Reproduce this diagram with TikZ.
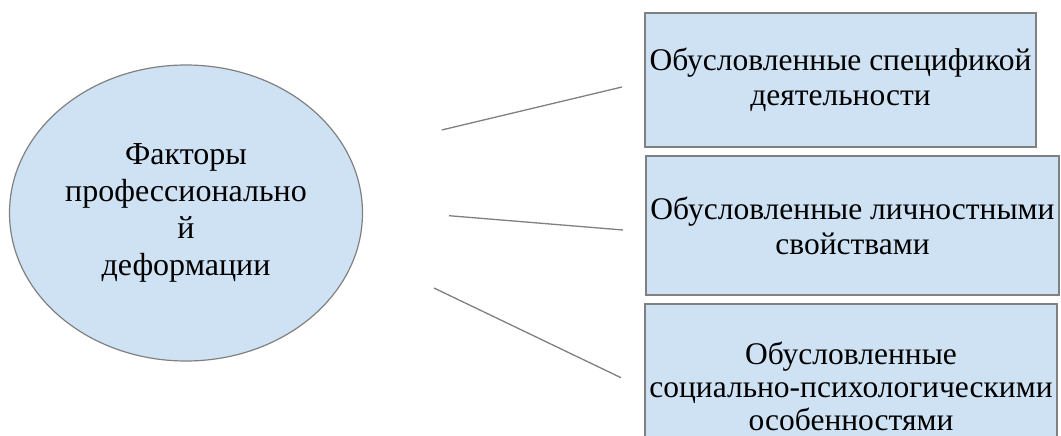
\documentclass[tikz,border=0pt]{standalone}
\usepackage{fontspec}
\setmainfont{Liberation Serif}
\usetikzlibrary{shapes.geometric}
\definecolor{boxfill}{HTML}{CFE2F3}
\definecolor{edgegray}{HTML}{808080}
\tikzset{
  factor/.style={ellipse, draw=edgegray, line width=1.2pt, fill=boxfill, inner sep=0pt,
    minimum width=353pt, minimum height=296pt, align=center,
    font=\fontsize{32pt}{37pt}\selectfont},
  kindbox/.style={rectangle, draw=edgegray, line width=1.2pt, fill=boxfill, inner sep=0pt,
    align=center, font=\fontsize{31.5pt}{35pt}\selectfont},
  link/.style={draw=edgegray, line width=1.3pt}
}
\begin{document}
\begin{tikzpicture}[x=1pt,y=-1pt]
\useasboundingbox (0,0) rectangle (1061,436);
\clip (0,0) rectangle (1061,436);
\fill[white] (0,0) rectangle (1061,436);
\node[factor] (f) at (186,213) {Факторы\\профессионально\\й\\деформации};
\node[kindbox, minimum width=391pt, minimum height=134pt] (b1) at (840.5,80)
  {Обусловленные спецификой\\деятельности};
\node[kindbox, minimum width=413pt, minimum height=139pt] (b2) at (852.5,225.5)
  {Обусловленные личностными\\свойствами};
\node[kindbox, minimum width=412pt, minimum height=164pt,
  font=\fontsize{31.5pt}{33pt}\selectfont] (b3) at (851,386)
  {Обусловленные\\социально-психологическими\\особенностями};
\coordinate (a1) at (441.7,130);
\coordinate (e1) at (622,87);
\coordinate (a2) at (449,215.7);
\coordinate (e2) at (623,230);
\coordinate (a3) at (434,288);
\coordinate (e3) at (621,377.7);
\draw[link] (a1) -- (e1);
\draw[link] (a2) -- (e2);
\draw[link] (a3) -- (e3);
\end{tikzpicture}
\end{document}
